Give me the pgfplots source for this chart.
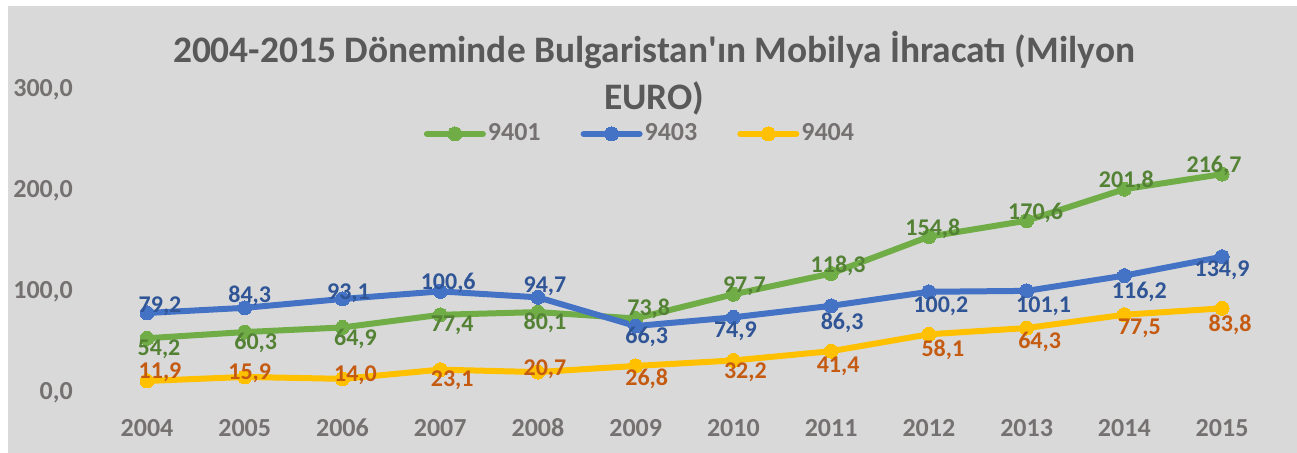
\documentclass[border=0pt]{standalone}
\usepackage{pgfplots}
\pgfplotsset{compat=1.18}
\usepackage{pgfplotstable}
\usepackage{fontspec}
\setmainfont{Carlito}
\definecolor{bgc}{HTML}{D9D9D9}
\definecolor{tickc}{HTML}{757171}
\definecolor{titlec}{HTML}{595959}
\definecolor{cgreen}{HTML}{70AD47}
\definecolor{cblue}{HTML}{4472C4}
\definecolor{cyellow}{HTML}{FFC000}
\definecolor{lgreen}{HTML}{548235}
\definecolor{lblue}{HTML}{2F5597}
\definecolor{lorange}{HTML}{C55A11}

\pgfplotstableread{
x y lab dx dy
0 54.2 54,2 6 -5.5
1 60.3 60,3 5.5 -5.5
2 64.9 64,9 6.5 -5.5
3 77.4 77,4 6 -5.5
4 80.1 80,1 3.5 -5.5
5 73.8 73,8 6.5 5
6 97.7 97,7 5.5 4
7 118.3 118,3 3.5 4
8 154.8 154,8 2 4
9 170.6 170,6 4.5 4
10 201.8 201,8 1 4
11 216.7 216,7 -4 4
}\tA
\pgfplotstableread{
x y lab dx dy
0 79.2 79,2 6.5 3.5
1 84.3 84,3 2.5 6
2 93.1 93,1 3 3
3 100.6 100,6 4 4
4 94.7 94,7 3.5 5.5
5 66.3 66,3 5.5 -5.5
6 74.9 74,9 1 -7
7 86.3 86,3 5.5 -8.5
8 100.2 100,2 6 -7
9 101.1 101,1 8.5 -7.5
10 116.2 116,2 7.5 -8
11 134.9 134,9 0 -7
}\tB
\pgfplotstableread{
x y lab dx dy
0 11.9 11,9 6.5 4.5
1 15.9 15,9 2.5 2
2 14.0 14,0 6.5 2
3 23.1 23,1 6 -5.5
4 20.7 20,7 3.5 1.5
5 26.8 26,8 5.5 -6.5
6 32.2 32,2 6 -6
7 41.4 41,4 3.5 -7.5
8 58.1 58,1 7 -8
9 64.3 64,3 6.5 -7
10 77.5 77,5 7.5 -7
11 83.8 83,8 4 -8
}\tC

\begin{document}
\begin{tikzpicture}
\fill[white] (0,0) rectangle (648.5pt,226.5pt);
\fill[bgc] (4pt,0pt) rectangle (648.5pt,223.5pt);
\node[font=\fontsize{18.7}{23.5}\selectfont\bfseries, text=titlec, align=center, inner sep=0pt] at (327pt,189.75pt)
  {2004-2015 Döneminde Bulgaristan\textquotesingle ın Mobilya İhracatı (Milyon\\EURO)};
\begin{axis}[
  at={(49.07pt,30pt)}, anchor=south west,
  scale only axis, width=586.4pt, height=151.5pt,
  xmin=-0.5, xmax=11.5, ymin=0, ymax=300,
  axis line style={draw=none},
  major tick length=0pt,
  xtick={0,...,11},
  xticklabels={2004,2005,2006,2007,2008,2009,2010,2011,2012,2013,2014,2015},
  ytick={0,100,200,300},
  yticklabels={{0,0},{100,0},{200,0},{300,0}},
  /pgf/number format/assume math mode=true,
  ticklabel style={font=\fontsize{13}{15}\selectfont\bfseries, text=tickc, inner sep=0pt},
  xticklabel style={anchor=center, yshift=-17.5pt},
  yticklabel style={anchor=east, xshift=-12.5pt},
  legend columns=3,
  legend style={draw=none, fill=none, at={(0.462,0.855)}, anchor=center,
    font=\fontsize{13}{15}\selectfont\bfseries, text=tickc,
    nodes={inner xsep=1pt, inner ysep=0pt},
    /tikz/every even column/.append style={column sep=19pt},
    inner sep=0pt},
  legend image code/.code={\draw[mark repeat=2,mark phase=2,#1] plot coordinates {(0pt,0pt) (14pt,0pt) (28pt,0pt)};},
  every axis plot/.append style={line width=3pt, line cap=round, line join=round, mark=*, mark size=3.5pt},
]
\addplot[color=cgreen, mark options={solid, fill=cgreen, draw=cgreen, line width=0pt}] table[x=x, y=y] {\tA};
\addlegendentry{9401}
\addplot[color=cblue, mark options={solid, fill=cblue, draw=cblue, line width=0pt}] table[x=x, y=y] {\tB};
\addlegendentry{9403}
\addplot[color=cyellow, mark options={solid, fill=cyellow, draw=cyellow, line width=0pt}] table[x=x, y=y] {\tC};
\addlegendentry{9404}
\addplot[draw=none, mark=none, forget plot, point meta=explicit symbolic,
  visualization depends on={\thisrow{dx} \as \dx},
  visualization depends on={\thisrow{dy} \as \dy},
  nodes near coords,
  every node near coord/.append style={anchor=center, xshift=\dx pt, yshift=\dy pt, inner sep=0pt,
    font=\fontsize{12}{14}\selectfont\bfseries, text=lgreen}]
  table[x=x, y=y, meta=lab] {\tA};
\addplot[draw=none, mark=none, forget plot, point meta=explicit symbolic,
  visualization depends on={\thisrow{dx} \as \dx},
  visualization depends on={\thisrow{dy} \as \dy},
  nodes near coords,
  every node near coord/.append style={anchor=center, xshift=\dx pt, yshift=\dy pt, inner sep=0pt,
    font=\fontsize{12}{14}\selectfont\bfseries, text=lblue}]
  table[x=x, y=y, meta=lab] {\tB};
\addplot[draw=none, mark=none, forget plot, point meta=explicit symbolic,
  visualization depends on={\thisrow{dx} \as \dx},
  visualization depends on={\thisrow{dy} \as \dy},
  nodes near coords,
  every node near coord/.append style={anchor=center, xshift=\dx pt, yshift=\dy pt, inner sep=0pt,
    font=\fontsize{12}{14}\selectfont\bfseries, text=lorange}]
  table[x=x, y=y, meta=lab] {\tC};
\end{axis}
\end{tikzpicture}
\end{document}
